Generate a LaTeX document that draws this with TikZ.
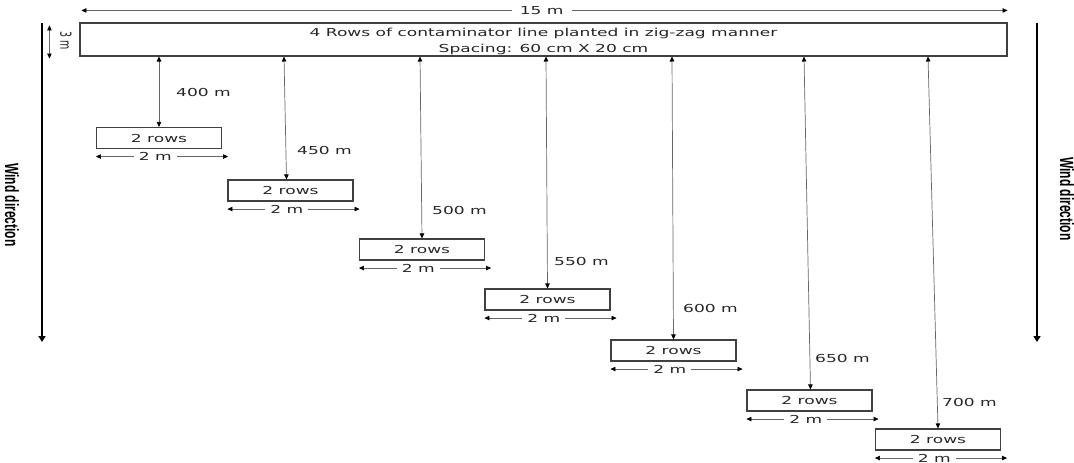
\documentclass[tikz,border=0pt]{standalone}
\usepackage{fontspec}
\setmainfont{DejaVu Sans}
\newfontfamily\windfont{Liberation Sans}
\usepackage{graphicx}
\usetikzlibrary{arrows.meta}
\newcommand{\sx}[1]{\scalebox{1.55}[1]{#1}}
\newcommand{\wsx}[1]{\scalebox{1.6}[1]{\rotatebox{-90}{#1}}}
\begin{document}
\begin{tikzpicture}[x=1pt,y=-1pt,
  every node/.style={font=\fontsize{11}{16}\selectfont, text=black!85},
  rowbox/.style={draw=black!75, line width=1.1pt, minimum width=125pt, minimum height=21pt, inner sep=0pt},
  mainbox/.style={draw=black!75, line width=1.1pt, minimum width=927pt, minimum height=33pt, inner sep=0pt, align=center},
  dimline/.style={draw=black!60, line width=0.7pt, {Triangle[length=5pt,width=4.5pt,color=black]}-{Triangle[length=5pt,width=4.5pt,color=black]}},
  windarrow/.style={draw=black, line width=2.2pt, -{Triangle[length=6pt,width=7pt]}},
  dimlabel/.style={fill=white, inner xsep=5pt, inner ysep=0.5pt},
  distlabel/.style={anchor=west, inner sep=0pt},
  windlabel/.style={inner sep=0pt, font=\windfont\bfseries\fontsize{12}{14}\selectfont, text=black}
]
\useasboundingbox (0,0) rectangle (1074,463);
% main line
\node[mainbox] (main) at (543.5,39.5) {\rule{0pt}{0pt}};
\node[align=center, inner sep=0pt] (maintext) at (543.5,41) {\sx{4 Rows of contaminator line planted in zig-zag manner}\\\sx{Spacing: 60 cm X 20 cm}};
% 15 m
\draw[dimline] ([shift={(2,-12)}]main.north west) -- node[dimlabel,inner xsep=8pt,pos=0.497]{\sx{15 m}} ([shift={(0,-12)}]main.north east);
% 3 m
\draw[dimline] ([shift={(-30,3)}]main.north west) -- ([shift={(-30,2)}]main.south west);
\node[inner sep=0pt, font=\fontsize{9.5}{11}\selectfont] (threem) at (66,41) {\wsx{3 m}};
% wind direction
\coordinate (wl1) at (42,23);
\coordinate (wl2) at (42,342);
\coordinate (wr1) at (1037,23);
\coordinate (wr2) at (1037,342);
\draw[windarrow] (wl1) -- (wl2);
\draw[windarrow] (wr1) -- (wr2);
\node[windlabel] (wlab) at (12,205) {\wsx{Wind direction}};
\node[windlabel] (wrab) at (1067,199) {\wsx{Wind direction}};
% row boxes
\node[rowbox] (b1) at (159,138) {\sx{2 rows}};
\node[rowbox] (b2) at (290.5,190.5) {\sx{2 rows}};
\node[rowbox] (b3) at (422,249.5) {\sx{2 rows}};
\node[rowbox] (b4) at (547.5,299.5) {\sx{2 rows}};
\node[rowbox] (b5) at (673.5,350.5) {\sx{2 rows}};
\node[rowbox] (b6) at (809.5,400.5) {\sx{2 rows}};
\node[rowbox] (b7) at (938,439.5) {\sx{2 rows}};
% 2 m arrows
\foreach \b in {b1,b2,b3,b4,b5,b6,b7}{
  \draw[dimline] ([shift={(0,7.5)}]\b.south west) -- node[dimlabel,pos=0.45]{\sx{2 m}} ([shift={(6,7.5)}]\b.south east);
}
% distance arrows
\coordinate (t1) at (159,56.5);
\coordinate (t2) at (284,56.5);
\coordinate (t3) at (420,56.5);
\coordinate (t4) at (546,56.5);
\coordinate (t5) at (672,56.5);
\coordinate (t6) at (804,56.5);
\coordinate (t7) at (928,56.5);
\draw[dimline] (t1) -- (b1.north);
\draw[dimline] (t2) -- ([xshift=-4pt]b2.north);
\draw[dimline] (t3) -- (b3.north);
\draw[dimline] (t4) -- (b4.north);
\draw[dimline] (t5) -- (b5.north);
\draw[dimline] (t6) -- ([xshift=1pt]b6.north);
\draw[dimline] (t7) -- (b7.north);
% distance labels
\node[distlabel] (d1) at (176,92) {\sx{400 m}};
\node[distlabel] (d2) at (297,150) {\sx{450 m}};
\node[distlabel] (d3) at (432,210) {\sx{500 m}};
\node[distlabel] (d4) at (554,261) {\sx{550 m}};
\node[distlabel] (d5) at (683,308) {\sx{600 m}};
\node[distlabel] (d6) at (815,358) {\sx{650 m}};
\node[distlabel] (d7) at (942,402) {\sx{700 m}};
\end{tikzpicture}
\end{document}
